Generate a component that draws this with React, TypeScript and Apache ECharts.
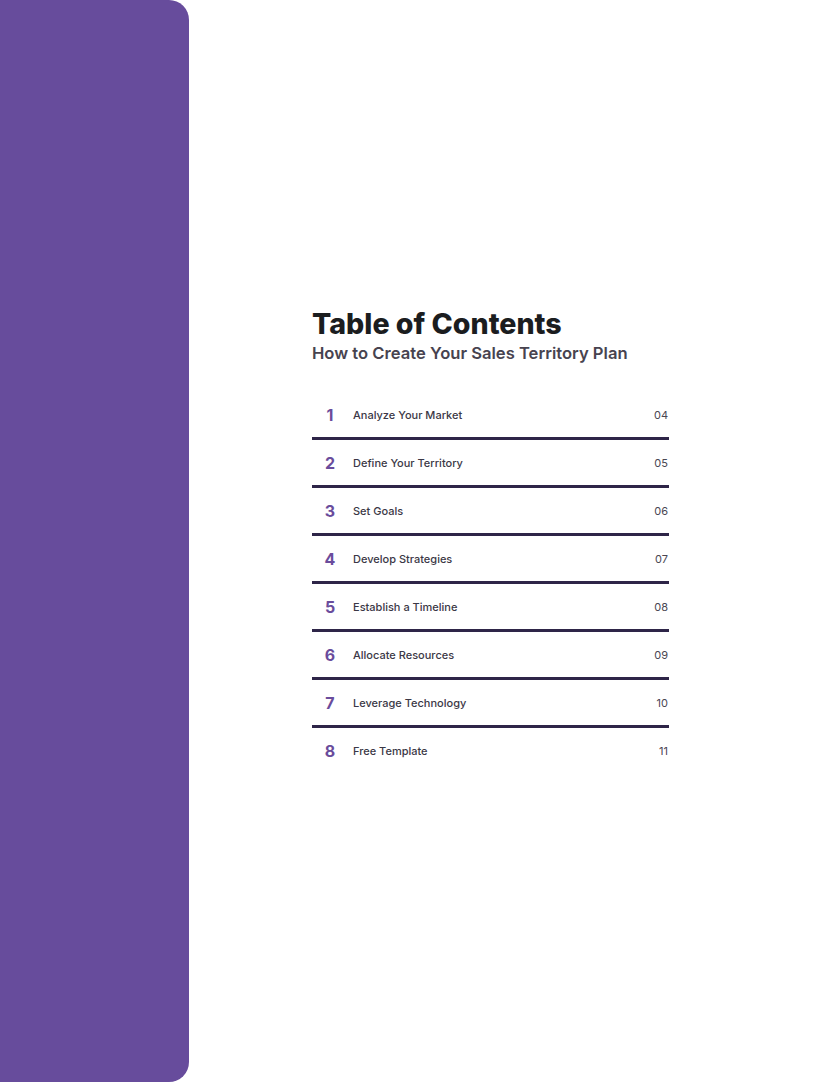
import React, { useEffect, useRef } from "react";
import * as echarts from "echarts";

const title = "Table of Contents";
const subtitle = "How to Create Your Sales Territory Plan";
const sectionNumbers = ["1", "2", "3", "4", "5", "6", "7", "8"];
const sectionTitles = [
  "Analyze Your Market",
  "Define Your Territory",
  "Set Goals",
  "Develop Strategies",
  "Establish a Timeline",
  "Allocate Resources",
  "Leverage Technology",
  "Free Template",
];
const pageNumbers = ["04", "05", "06", "07", "08", "09", "10", "11"];

const FONT = "Inter, 'Open Sans', sans-serif";

export default function App() {
  const ref = useRef<HTMLDivElement>(null);
  useEffect(() => {
    document.body.style.margin = "0";
    if (!ref.current) return;
    const chart = echarts.init(ref.current, undefined, { renderer: "svg" });
    const elements: any[] = [];
    elements.push({
      type: "rect",
      shape: { x: -30, y: 0, width: 219, height: 1082, r: [0, 20, 20, 0] },
      style: { fill: "#674c9c" },
    });
    elements.push({
      type: "text",
      x: 312,
      y: 323,
      style: {
        text: title,
        font: `800 28.6px ${FONT}`,
        fill: "#1b1d1f",
        textVerticalAlign: "middle",
        textAlign: "left",
      },
    });
    elements.push({
      type: "text",
      x: 312,
      y: 353,
      style: {
        text: subtitle,
        font: `600 16.6px ${FONT}`,
        fill: "#47434f",
        textVerticalAlign: "middle",
        textAlign: "left",
      },
    });
    const top = 415;
    const step = 48;
    sectionTitles.forEach((t, i) => {
      const y = top + i * step;
      elements.push({
        type: "text",
        x: 330,
        y,
        style: {
          text: sectionNumbers[i],
          font: `700 16px ${FONT}`,
          fill: "#6a4c9c",
          textVerticalAlign: "middle",
          textAlign: "center",
        },
      });
      elements.push({
        type: "text",
        x: 353,
        y,
        style: {
          text: t,
          font: `500 11px ${FONT}`,
          fill: "#3b3846",
          textVerticalAlign: "middle",
          textAlign: "left",
        },
      });
      elements.push({
        type: "text",
        x: 668,
        y,
        style: {
          text: pageNumbers[i],
          font: `400 11px ${FONT}`,
          fill: "#4a4652",
          textVerticalAlign: "middle",
          textAlign: "right",
        },
      });
      if (i < sectionTitles.length - 1) {
        elements.push({
          type: "rect",
          shape: { x: 312, y: y + 22, width: 357, height: 3 },
          style: { fill: "#2e2548" },
        });
      }
    });
    chart.setOption({
      animation: false,
      backgroundColor: "#ffffff",
      graphic: { elements },
    });
    return () => chart.dispose();
  }, []);
  return (
    <div
      ref={ref}
      style={{ position: "absolute", left: 0, top: 0, width: 820, height: 1082 }}
    />
  );
}
